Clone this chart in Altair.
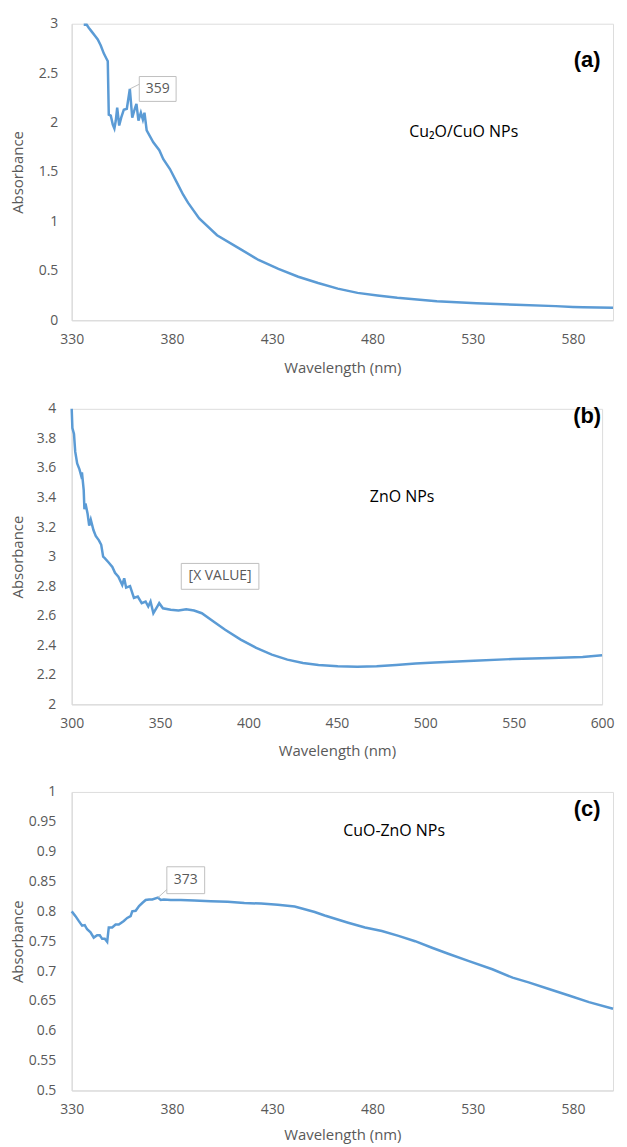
import altair as alt
import pandas as pd

# ---------------- data ----------------
# (a) Cu2O/CuO NPs
nm_a = [336.0, 337.5, 338.5, 340.0, 341.5, 343.0, 344.5, 346.0, 347.5, 348.0,
        348.5, 349.5, 350.5, 351.3, 352.0, 352.7, 353.7, 354.7, 356.0, 357.5,
        359.0, 360.2, 361.5, 362.3, 363.3, 364.5, 365.5, 366.3, 367.4, 370.7,
        373.7, 375.7, 379.0, 382.3, 385.6, 388.0, 393.6, 402.5, 413.3, 423.2,
        433.1, 443.0, 452.9, 462.7, 472.6, 482.5, 492.4, 512.1, 531.9, 551.6,
        571.4, 580.0, 585.0, 600.0]
abs_a = [2.99, 2.99, 2.96, 2.92, 2.88, 2.84, 2.78, 2.70, 2.64, 2.62,
         2.08, 2.07, 1.98, 1.94, 2.02, 2.15, 1.97, 2.05, 2.13, 2.14,
         2.34, 2.05, 2.14, 2.19, 2.02, 2.10, 2.03, 2.10, 1.92, 1.80,
         1.72, 1.63, 1.53, 1.40, 1.27, 1.19, 1.03, 0.86, 0.73, 0.61,
         0.52, 0.44, 0.377, 0.32, 0.277, 0.25, 0.227, 0.193, 0.173, 0.157,
         0.143, 0.135, 0.132, 0.127]

# (b) ZnO NPs
nm_b = [300.0, 300.4, 301.3, 302.0, 303.1, 304.4, 305.3, 305.8, 306.8, 307.2,
        307.8, 309.0, 309.9, 310.8, 312.3, 313.6, 315.4, 316.7, 317.8, 318.7,
        320.9, 323.0, 324.5, 326.4, 328.6, 329.7, 330.8, 333.0, 335.2, 337.4,
        339.6, 341.8, 343.3, 344.6, 346.2, 348.4, 349.5, 351.6, 356.0, 360.4,
        364.8, 369.2, 373.6, 380.2, 386.8, 395.6, 404.4, 413.2, 422.0, 430.8,
        439.6, 450.5, 461.5, 472.5, 483.5, 494.5, 505.5, 527.5, 549.5, 571.4,
        589.0, 600.0]
abs_b = [4.00, 3.87, 3.83, 3.71, 3.63, 3.59, 3.55, 3.57, 3.45, 3.32,
         3.36, 3.29, 3.21, 3.25, 3.18, 3.14, 3.11, 3.08, 3.00, 2.99,
         2.96, 2.93, 2.89, 2.864, 2.808, 2.853, 2.79, 2.80, 2.72, 2.73,
         2.685, 2.696, 2.662, 2.696, 2.617, 2.662, 2.685, 2.65, 2.64, 2.635,
         2.644, 2.635, 2.617, 2.561, 2.505, 2.438, 2.382, 2.337, 2.303, 2.28,
         2.267, 2.258, 2.254, 2.258, 2.267, 2.276, 2.283, 2.296, 2.307, 2.314,
         2.321, 2.332]

# (c) CuO-ZnO NPs
nm_c = [330.0, 331.9, 333.5, 335.2, 336.5, 337.7, 339.4, 341.0, 342.7, 344.0,
        345.2, 346.5, 347.7, 348.5, 350.2, 351.9, 353.5, 356.0, 357.7, 359.4,
        360.2, 361.9, 363.6, 365.2, 366.9, 368.6, 370.2, 373.0, 374.4, 376.0,
        379.4, 384.4, 391.1, 399.4, 407.8, 416.1, 424.5, 432.8, 441.2, 451.2,
        456.2, 467.9, 476.3, 484.7, 493.0, 501.3, 509.7, 517.8, 527.8, 539.8,
        549.9, 557.9, 568.0, 578.0, 588.0, 600.0]
abs_c = [0.800, 0.792, 0.784, 0.776, 0.777, 0.770, 0.765, 0.756, 0.760, 0.760,
         0.754, 0.754, 0.749, 0.773, 0.773, 0.778, 0.778, 0.784, 0.789, 0.792,
         0.800, 0.801, 0.809, 0.814, 0.819, 0.820, 0.820, 0.823, 0.819, 0.820,
         0.819, 0.819, 0.818, 0.817, 0.816, 0.814, 0.813, 0.811, 0.808, 0.799,
         0.793, 0.781, 0.773, 0.767, 0.759, 0.750, 0.739, 0.729, 0.717, 0.703,
         0.689, 0.681, 0.670, 0.659, 0.648, 0.637]

# tick values
xt_a = [330, 380, 430, 480, 530, 580]
yt_a = [0, 0.5, 1, 1.5, 2, 2.5, 3]
xt_b = [300, 350, 400, 450, 500, 550, 600]
yt_b = [2, 2.2, 2.4, 2.6, 2.8, 3, 3.2, 3.4, 3.6, 3.8, 4]
xt_c = [330, 380, 430, 480, 530, 580]
yt_c = [0.5, 0.55, 0.6, 0.65, 0.7, 0.75, 0.8, 0.85, 0.9, 0.95, 1]

# callout labels (anchor point + text)
call_a = {"nm": [359.0], "v": [2.34], "lab": ["359"]}
call_b = {"nm": [364.8], "v": [2.644], "lab": ["[X VALUE]"]}
call_c = {"nm": [373.0], "v": [0.823], "lab": ["373"]}

# ---------------- styling ----------------
FONT = "Open Sans"
LINE = "#5B9BD5"
GRAY = "#595959"
AXISC = "#D9D9D9"
BOXC = "#BFBFBF"


def panel(nm, ab, xdom, xt, ydom, yt, w, h, ylp, yext, ytp, xtp,
          call, box_off, text_off, leader, tag, tag_xy, name, name_xy, name_size):
    df = pd.DataFrame({"nm": nm, "v": ab})
    cdf = pd.DataFrame(call)
    xs = alt.Scale(domain=xdom, nice=False, zero=False)
    ys = alt.Scale(domain=ydom, nice=False, zero=False)
    xax = alt.Axis(values=xt, tickCount=30, title="Wavelength (nm)", grid=False, ticks=False,
                   tickSize=0, domainColor=AXISC, domainWidth=1, labelColor=GRAY,
                   labelFont=FONT, labelFontSize=14, labelPadding=12, labelFlush=False,
                   labelOverlap=False, titleFont=FONT, titleFontSize=15,
                   titleFontWeight="normal", titleColor=GRAY,
                   titlePadding=xtp, minExtent=26, maxExtent=26)
    yax = alt.Axis(values=yt, tickCount=30, format="~g", title="Absorbance", grid=False,
                   ticks=False, tickSize=0, domainColor=AXISC, domainWidth=1,
                   labelColor=GRAY, labelFont=FONT, labelFontSize=14, labelPadding=ylp,
                   labelFlush=False, labelOverlap=False, titleFont=FONT, titleFontSize=15,
                   titleFontWeight="normal", titleColor=GRAY,
                   titlePadding=ytp, minExtent=yext, maxExtent=yext)
    line = alt.Chart(df).mark_line(color=LINE, strokeWidth=2.5).encode(
        x=alt.X("nm:Q", scale=xs, axis=xax),
        y=alt.Y("v:Q", scale=ys, axis=yax),
    )
    layers = [line]
    if leader is not None:
        rule = alt.Chart(cdf).mark_rule(color=BOXC, strokeWidth=1,
                                        x2Offset=leader[0], y2Offset=leader[1]).encode(
            x="nm:Q", x2="nm", y="v:Q", y2="v")
        layers.append(rule)
    box = alt.Chart(cdf).mark_rect(fill="white", stroke=BOXC, strokeWidth=1,
                                   xOffset=box_off[0], x2Offset=box_off[1],
                                   yOffset=box_off[2], y2Offset=box_off[3]).encode(
        x="nm:Q", x2="nm", y="v:Q", y2="v")
    txt = alt.Chart(cdf).mark_text(font=FONT, fontSize=14, color=GRAY,
                                   dx=text_off[0], dy=text_off[1],
                                   align="center", baseline="middle").encode(
        x="nm:Q", y="v:Q", text="lab:N")
    layers += [box, txt]
    tag_t = alt.Chart(pd.DataFrame({"t": [tag]})).mark_text(
        font="Liberation Sans", fontSize=22, fontWeight="bold", color="black",
        align="center", baseline="middle").encode(
        x=alt.value(tag_xy[0]), y=alt.value(tag_xy[1]), text="t:N")
    name_t = alt.Chart(pd.DataFrame({"t": [name]})).mark_text(
        font=FONT + ", DejaVu Sans", fontSize=name_size, color="black",
        align="center", baseline="middle").encode(
        x=alt.value(name_xy[0]), y=alt.value(name_xy[1]), text="t:N")
    layers += [tag_t, name_t]
    return alt.layer(*layers).properties(width=w, height=h)


# all three plot areas share the same left edge (x = 71 on the page)
pa = panel(nm_a, abs_a, [330, 600], xt_a, [0, 3], yt_a, 544, 298,
           14, 34, 12, 14, call_a, (9.5, 46.5, -12.5, 12.5), (28, 0), (10, -5),
           "(a)", (518, 36), "Cu\u2082O/CuO NPs", (394, 109), 16)
pb = panel(nm_b, abs_b, [300, 600], xt_b, [2, 4], yt_b, 533, 297,
           16, 36, 10, 13, call_b, (-5, 73, -46, -20), (34, -33), None,
           "(b)", (518, 7), "ZnO NPs", (332, 89), 16)
pc = panel(nm_c, abs_c, [330, 600], xt_c, [0.5, 1], yt_c, 544, 300,
           16, 44, 2, 11, call_c, (9, 47, -31, -4), (28, -18), (10, -9),
           "(c)", (518, 17), "CuO-ZnO NPs", (324, 39), 16)

chart = alt.vconcat(pa, pb, pc, spacing=25).properties(
    padding={"left": 2, "top": 5, "right": 0, "bottom": 0}
).configure_view(stroke=None).configure(background="white")

chart.save("out.html", embed_options={"renderer": "svg", "actions": False})
